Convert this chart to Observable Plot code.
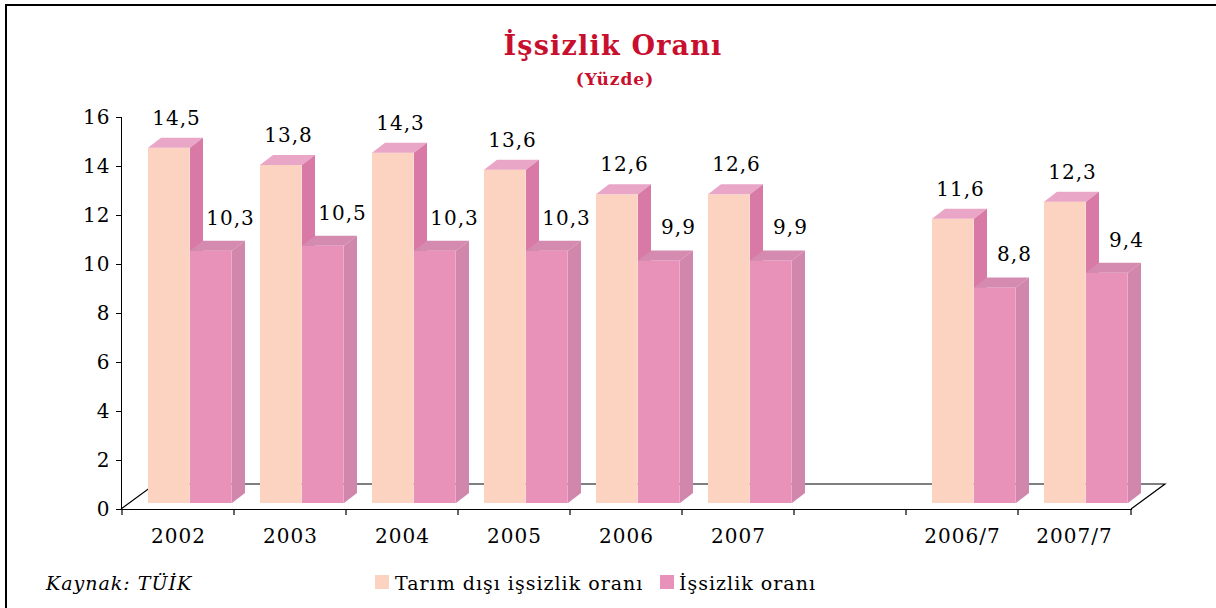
<!DOCTYPE html>
<html><head><meta charset="utf-8">
<script src="https://cdn.jsdelivr.net/npm/d3@7"></script>
<script src="https://cdn.jsdelivr.net/npm/@observablehq/plot@0.6"></script>
<style>
body{margin:0;background:#fff;}
#wrap{position:relative;width:1216px;height:608px;overflow:hidden;font-family:"DejaVu Serif",serif;color:#000;}
#frame{position:absolute;left:5px;top:4px;width:1240px;height:640px;border-left:2px solid #000;border-top:2px solid #000;}
.t{position:absolute;white-space:nowrap;}
#title{left:0;width:1226px;top:32px;text-align:center;color:#C8102E;font-weight:bold;font-size:27px;line-height:27px;letter-spacing:1.2px;}
#sub{left:0;width:1230px;top:71px;text-align:center;color:#C8102E;font-weight:bold;font-size:17px;line-height:17px;letter-spacing:1px;}
#chart{position:absolute;left:0;top:100px;}
.sw{position:absolute;width:14px;height:14px;top:575px;}
.lg{font-size:19px;line-height:19px;top:574px;letter-spacing:1px;}
#cap{left:46px;top:574px;font-style:italic;font-size:19px;line-height:19px;letter-spacing:1px;}
</style></head>
<body><div id="wrap">
<div id="frame"></div>
<div class="t" id="title">İşsizlik Oranı</div>
<div class="t" id="sub">(Yüzde)</div>
<div id="chart"></div>
<div class="t" id="cap">Kaynak: TÜİK</div>
<div class="sw" style="left:375px;background:#FCD3C1"></div>
<div class="t lg" style="left:395px">Tarım dışı işsizlik oranı</div>
<div class="sw" style="left:660px;background:#E892BA"></div>
<div class="t lg" style="left:679px">İşsizlik oranı</div>
</div>
<script>
const years = ["2002","2003","2004","2005","2006","2007","2006/7","2007/7"];
const tarimDisi = [14.5,13.8,14.3,13.6,12.6,12.6,11.6,12.3];
const issizlik = [10.3,10.5,10.3,10.3,9.9,9.9,8.8,9.4];
const gapKey = "gap";
const xDomain = [...years.slice(0,6), gapKey, ...years.slice(6)];
const yTicks = [0,2,4,6,8,10,12,14,16];

const data = years.map((y,i)=>({year:y, a:tarimDisi[i], b:issizlik[i]}));
const fmt = v => v.toFixed(1).replace(".", ",");

const BW = (1216-121-85)/xDomain.length;
const LIFT = 6, DX = 13, DY = 10;
const peach = {front:"#FCD3C1", top:"#EAA6C6", side:"#D979A6", l:26, w:42};
const pink = {front:"#E892BA", top:"#D48BAF", side:"#D186AC", l:68, w:42};

function faces(key, c) {
  return (index, {x, y}) => {
    const g = d3.create("svg:g");
    for (const d of data) {
      const x0 = x(d.year) + c.l, x1 = x0 + c.w;
      const yt = y(d[key]) - LIFT, yb = y(0) - LIFT;
      g.append("path").attr("fill", c.top)
        .attr("d", `M${x0},${yt}L${x1},${yt}L${x1+DX},${yt-DY}L${x0+DX},${yt-DY}Z`);
      g.append("path").attr("fill", c.side)
        .attr("d", `M${x1},${yt}L${x1+DX},${yt-DY}L${x1+DX},${yb-DY}L${x1},${yb}Z`);
    }
    return g.node();
  };
}

function floor(index, {x, y}, values, dims) {
  const x0 = dims.marginLeft, x1 = dims.width - dims.marginRight, y0 = y(0);
  const g = d3.create("svg:g");
  g.append("path").attr("fill", "none").attr("stroke", "#000").attr("stroke-width", 1.2)
    .attr("d", `M${x0},${y0}L${x0+34},${y0-25}L${x1+34},${y0-25}L${x1},${y0}`);
  const bounds = xDomain.map(k => x(k)).concat([x1]);
  for (const bx of bounds) {
    g.append("line").attr("x1", bx).attr("x2", bx).attr("y1", y0).attr("y2", y0+6)
      .attr("stroke", "#000").attr("stroke-width", 1.2);
  }
  return g.node();
}

const chart = Plot.plot({
  width: 1216, height: 460,
  marginLeft: 121, marginRight: 85, marginTop: 17, marginBottom: 51,
  style: {fontFamily: "DejaVu Serif", fontSize: "20px", letterSpacing: "1px", color: "#000", background: "transparent"},
  x: {domain: xDomain, padding: 0, tickSize: 0, tickPadding: 19, line: true, label: null,
      tickFormat: d => d === gapKey ? "" : d},
  y: {domain: [0,16], ticks: yTicks, tickSize: 5, tickPadding: 6, line: true, label: null},
  marks: [
    floor,
    Plot.barY(data, {x: "year", y: "a", fill: peach.front, insetLeft: peach.l, insetRight: BW - peach.l - peach.w, dy: -LIFT}),
    faces("a", peach),
    Plot.barY(data, {x: "year", y: "b", fill: pink.front, insetLeft: pink.l, insetRight: BW - pink.l - pink.w, dy: -LIFT}),
    faces("b", pink),
    Plot.text(data, {x: "year", y: "a", text: d => fmt(d.a), dx: -2, dy: -36, fontSize: 20, fill: "#000"}),
    Plot.text(data, {x: "year", y: "b", text: d => fmt(d.b), dx: 52, dy: -39, fontSize: 20, fill: "#000"})
  ]
});
document.getElementById("chart").appendChild(chart);
</script>
</body></html>
